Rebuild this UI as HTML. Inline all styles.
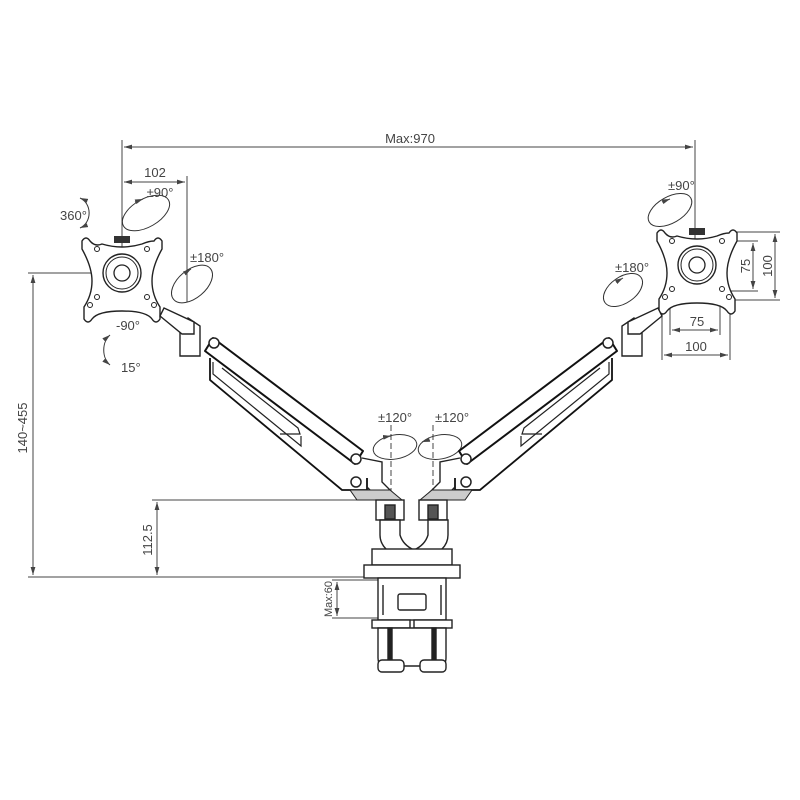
<!DOCTYPE html>
<html><head><meta charset="utf-8"><style>
html,body{margin:0;padding:0;background:#fff;}
svg{display:block;}
text{font-family:"Liberation Sans",sans-serif;fill:#444;font-size:13px;}
</style></head><body>
<svg width="800" height="800" viewBox="0 0 800 800" xmlns="http://www.w3.org/2000/svg">
<defs>
<marker id="a" viewBox="0 0 10 6" refX="10" refY="3" markerWidth="8" markerHeight="5" orient="auto-start-reverse"><path d="M0,0L10,3L0,6z" fill="#444"/></marker>
<g id="plate">
<path d="M-40,-32 q4,-6 8,0 q5,6 12,3 q20,6 40,0 q7,-3 12,-3 q4,-6 8,0 l0,8 q-10,18 -10,32 q0,14 8,26 l0,12 q-4,6 -8,0 q-6,-8 -30,-8 q-24,0 -30,8 q-4,6 -8,0 l0,-12 q8,-12 8,-26 q0,-14 -10,-32z" fill="#fff" stroke="#222" stroke-width="1.4"/>
<circle r="19" fill="none" stroke="#222" stroke-width="1.4"/><circle r="16" fill="none" stroke="#222"/><circle r="8" fill="none" stroke="#222" stroke-width="1.3"/>
<circle cx="-25" cy="-24" r="2.5" fill="none" stroke="#222"/><circle cx="25" cy="-24" r="2.5" fill="none" stroke="#222"/>
<circle cx="-25" cy="24" r="2.5" fill="none" stroke="#222"/><circle cx="25" cy="24" r="2.5" fill="none" stroke="#222"/>
<circle cx="-32" cy="32" r="2.5" fill="none" stroke="#222"/><circle cx="32" cy="32" r="2.5" fill="none" stroke="#222"/>
<rect x="-8" y="-37" width="16" height="7" fill="#333"/>
</g>
<g id="arm">
<path d="M188,318 l12,8 l0,30 l-20,0 l0,-25z" fill="#fff" stroke="#222" stroke-width="1.4"/>
<path d="M164,308 l30,14 l0,12 l-12,0 l-22,-18z" fill="#fff" stroke="#222" stroke-width="1.4"/>
<path d="M213,338 l150,113 l-8,13 l-150,-113z" fill="#fff" stroke="#111" stroke-width="2" stroke-linejoin="round"/>
<circle cx="214" cy="343" r="5" fill="#fff" stroke="#222" stroke-width="1.5"/>
<circle cx="356" cy="459" r="5" fill="#fff" stroke="#222" stroke-width="1.5"/>
<circle cx="356" cy="482" r="5" fill="#fff" stroke="#222" stroke-width="1.5"/>
<path d="M210,358 l0,22 l132,110 l25,0 l0,-12" fill="none" stroke="#111" stroke-width="1.8"/>
<path d="M213,362 l0,12 l88,72 l0,-10" fill="none" stroke="#222" stroke-width="1.2"/>
<path d="M222,368 l76,60 l2,6 l-20,0" fill="none" stroke="#222" stroke-width="1.2"/>
<path d="M362,458 l20,4 l0,20 l20,20 l-20,0 l-15,-15" fill="none" stroke="#222" stroke-width="1.4"/>
<path d="M350,490 l40,0 l12,10 l-45,0z" fill="#ccc" stroke="#222"/>
</g>
</defs>
<g stroke="#444" stroke-width="1" fill="none">
<line x1="122" y1="140" x2="122" y2="268"/><line x1="695" y1="140" x2="695" y2="262"/>
<line x1="124" y1="147" x2="693" y2="147" marker-start="url(#a)" marker-end="url(#a)"/>
<line x1="187" y1="176" x2="187" y2="302"/>
<line x1="124" y1="182" x2="185" y2="182" marker-start="url(#a)" marker-end="url(#a)"/>
<line x1="28" y1="273" x2="108" y2="273"/><line x1="33" y1="275" x2="33" y2="575" marker-start="url(#a)" marker-end="url(#a)"/>
<line x1="28" y1="577" x2="372" y2="577"/>
<line x1="152" y1="500" x2="372" y2="500"/><line x1="157" y1="502" x2="157" y2="575" marker-start="url(#a)" marker-end="url(#a)"/>
<line x1="332" y1="580" x2="380" y2="580"/><line x1="332" y1="618" x2="380" y2="618"/>
<line x1="337" y1="582" x2="337" y2="616" marker-start="url(#a)" marker-end="url(#a)"/>
<line x1="735" y1="232" x2="780" y2="232"/><line x1="717" y1="241" x2="758" y2="241"/>
<line x1="717" y1="291" x2="758" y2="291"/><line x1="735" y1="300" x2="780" y2="300"/>
<line x1="753" y1="243" x2="753" y2="289" marker-start="url(#a)" marker-end="url(#a)"/>
<line x1="775" y1="234" x2="775" y2="298" marker-start="url(#a)" marker-end="url(#a)"/>
<line x1="662" y1="303" x2="662" y2="360"/><line x1="730" y1="303" x2="730" y2="360"/>
<line x1="670" y1="296" x2="670" y2="335"/><line x1="720" y1="296" x2="720" y2="335"/>
<line x1="672" y1="330" x2="718" y2="330" marker-start="url(#a)" marker-end="url(#a)"/>
<line x1="664" y1="355" x2="728" y2="355" marker-start="url(#a)" marker-end="url(#a)"/>
<g stroke-dasharray="6,3"><line x1="391" y1="425" x2="391" y2="500"/><line x1="433" y1="425" x2="433" y2="500"/></g>
<g stroke="#333">
<ellipse cx="146" cy="213" rx="26" ry="14" transform="rotate(-30 146 213)"/>
<ellipse cx="192" cy="284" rx="24" ry="14" transform="rotate(-40 192 284)"/>
<ellipse cx="670" cy="210" rx="24" ry="13" transform="rotate(-30 670 210)"/>
<ellipse cx="623" cy="290" rx="22" ry="13" transform="rotate(-35 623 290)"/>
<ellipse cx="395" cy="447" rx="22" ry="12" transform="rotate(-10 395 447)"/>
<ellipse cx="440" cy="447" rx="22" ry="12" transform="rotate(-10 440 447)"/>
<path d="M135,202 l8,-3" marker-end="url(#a)"/>
<path d="M185,273 l6,-4" marker-end="url(#a)"/>
<path d="M662,202 l8,-3" marker-end="url(#a)"/>
<path d="M616,282 l7,-4" marker-end="url(#a)"/>
<path d="M385,437 l6,-1" marker-end="url(#a)"/>
<path d="M428,440 l-6,2" marker-end="url(#a)"/>
<path d="M80,198 A14,16 0 0 1 80,228" marker-start="url(#a)" marker-end="url(#a)"/>
<path d="M110,335 A14,18 0 0 0 110,365" marker-start="url(#a)" marker-end="url(#a)"/>
</g>
</g>
<use href="#plate" x="122" y="273"/>
<use href="#plate" x="697" y="265"/>
<use href="#arm"/>
<use href="#arm" transform="translate(822,0) scale(-1,1)"/>
<g stroke="#222" stroke-width="1.4" fill="#fff">
<rect x="376" y="500" width="28" height="20"/><rect x="419" y="500" width="28" height="20"/>
<rect x="385" y="505" width="10" height="14" fill="#555"/><rect x="428" y="505" width="10" height="14" fill="#555"/>
<path d="M380,520 l20,0 l0,15 q3,10 14,15 q11,-5 14,-15 l0,-15 l20,0 l0,15 q0,8 -6,14 l0,10 l-56,0 l0,-10 q-6,-6 -6,-14z"/>
<rect x="372" y="549" width="80" height="16"/>
<rect x="364" y="565" width="96" height="13"/>
<rect x="378" y="578" width="68" height="42"/>
<rect x="398" y="594" width="28" height="16" rx="2"/>
<line x1="383" y1="585" x2="383" y2="615"/><line x1="441" y1="585" x2="441" y2="615"/>
<rect x="372" y="620" width="38" height="8"/><rect x="414" y="620" width="38" height="8"/>
<path d="M378,628 l68,0 l0,30 q0,8 -8,8 l-52,0 q-8,0 -8,-8z"/>
<rect x="388" y="628" width="4" height="36" fill="#222"/><rect x="432" y="628" width="4" height="36" fill="#222"/>
<rect x="378" y="660" width="26" height="12" rx="4"/><rect x="420" y="660" width="26" height="12" rx="4"/>
</g>
<text x="410" y="143" text-anchor="middle">Max:970</text>
<text x="155" y="177" text-anchor="middle">102</text>
<text x="160" y="197" text-anchor="middle">±90°</text>
<text x="60" y="220">360°</text>
<text x="190" y="262">±180°</text>
<text x="116" y="330">-90°</text>
<text x="121" y="372">15°</text>
<text x="668" y="190">±90°</text>
<text x="615" y="272">±180°</text>
<text x="378" y="422">±120°</text>
<text x="435" y="422">±120°</text>
<text x="697" y="326" text-anchor="middle">75</text>
<text x="696" y="351" text-anchor="middle">100</text>
<text transform="translate(750,266) rotate(-90)" text-anchor="middle">75</text>
<text transform="translate(772,266) rotate(-90)" text-anchor="middle">100</text>
<text transform="translate(27,428) rotate(-90)" text-anchor="middle">140~455</text>
<text transform="translate(152,540) rotate(-90)" text-anchor="middle">112.5</text>
<text transform="translate(332,599) rotate(-90)" text-anchor="middle" style="font-size:11px">Max:60</text>
</svg>
</body></html>
